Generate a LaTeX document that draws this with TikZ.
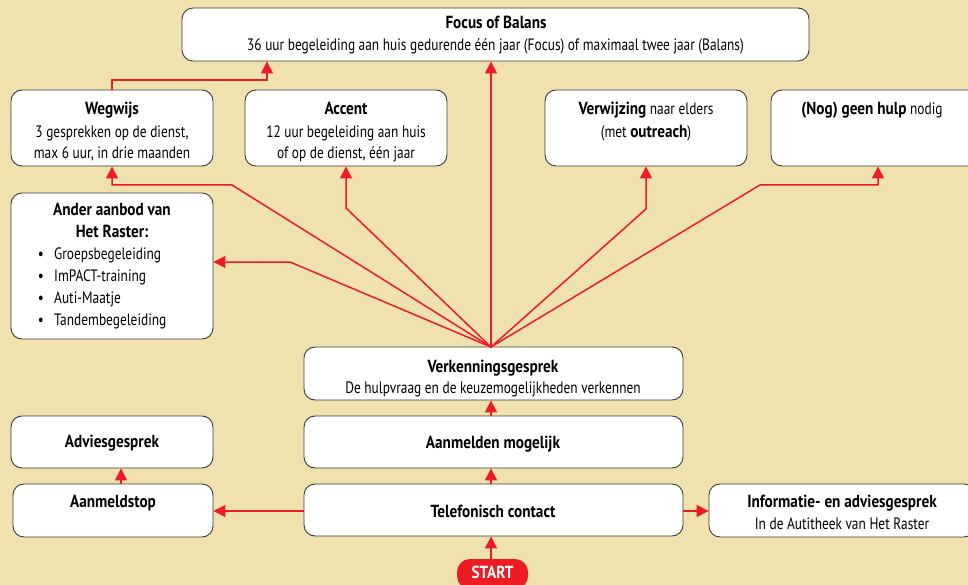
\documentclass[tikz,border=0pt]{standalone}
\usepackage{fontspec}
\setmainfont{PT Sans}[FakeStretch=0.81,BoldFeatures={FakeStretch=0.87}]
\usetikzlibrary{arrows.meta,calc}
\definecolor{bg}{HTML}{F0E2AF}
\definecolor{rd}{HTML}{ED1C24}
\definecolor{bd}{HTML}{3A3A3A}
\newcommand{\bfz}{\fontsize{17.5}{20}\selectfont\bfseries}
\tikzset{
  box/.style={draw=bd,fill=white,line width=0.9pt,rounded corners=11pt,inner sep=0pt},
  txt/.style={anchor=base,inner sep=0pt,font=\fontsize{16.5}{20}\selectfont},
  ttl/.style={txt,font=\bfz},
  lft/.style={anchor=base west,inner sep=0pt,font=\fontsize{16.5}{20}\selectfont},
  arr/.style={draw=rd,line width=1.5pt,-{Triangle[length=12pt,width=12pt]}},
}
\begin{document}
\begin{tikzpicture}[x=1pt,y=-1pt]
\clip (0,0) rectangle (968,585);
\fill[bg] (0,0) rectangle (968,585);
\useasboundingbox (0,0) rectangle (968,585);

% boxes
\node[box,minimum width=627,minimum height=53] (focus) at (495.5,34.5) {};
\node[box,minimum width=202,minimum height=76] (wegwijs) at (112,128) {};
\node[box,minimum width=202,minimum height=76] (accent) at (346,128) {};
\node[box,minimum width=202,minimum height=76] (verwijz) at (646,128) {};
\node[box,minimum width=214,minimum height=76] (nog) at (878,128) {};
\node[box,minimum width=202,minimum height=146] (ander) at (112,266) {};
\node[box,minimum width=379,minimum height=53] (verk) at (493.5,373.5) {};
\node[box,minimum width=379,minimum height=52] (aanm) at (493.5,442) {};
\node[box,minimum width=379,minimum height=52] (tel) at (493.5,510) {};
\node[box,minimum width=202,minimum height=52] (advies) at (112,442) {};
\node[box,minimum width=200,minimum height=53] (stop) at (113,510.5) {};
\node[box,minimum width=266,minimum height=53] (info) at (842,510.5) {};
\node[fill=rd,rounded corners=13pt,minimum width=71,minimum height=30,inner sep=0pt] (start) at (492.5,574) {};

% texts
\node[ttl] (tfocus1) at (496,29) {Focus of Balans};
\node[txt] (tfocus2) at (495.5,51) {36 uur begeleiding aan huis gedurende één jaar (Focus) of maximaal twee jaar (Balans)};
\node[ttl] (tweg1) at (112,115) {Wegwijs};
\node[txt] (tweg2) at (112,138) {3 gesprekken op de dienst,};
\node[txt] (tweg3) at (112,159) {max 6 uur, in drie maanden};
\node[ttl] (tacc1) at (346,115) {Accent};
\node[txt] (tacc2) at (346,138) {12 uur begeleiding aan huis};
\node[txt] (tacc3) at (346,159) {of op de dienst, één jaar};
\node[txt] (tver1) at (646,115) {{\bfz Verwijzing} naar elders};
\node[txt] (tver2) at (646,138) {(met {\bfz outreach})};
\node[txt] (tnog) at (872,115) {{\bfz (Nog) geen hulp} nodig};
\node[ttl] (tand1) at (112,215) {Ander aanbod van};
\node[ttl] (tand2) at (112,237) {Het Raster:};
\foreach \t/\yy [count=\i] in {Groepsbegeleiding/259,ImPACT-training/281,Auti-Maatje/303,Tandembegeleiding/325}{
  \node[txt] (bul\i) at (41,\yy) {•};
  \node[lft] (item\i) at (54,\yy) {\t};
}
\node[ttl] (tverk1) at (493,372) {Verkenningsgesprek};
\node[txt] (tverk2) at (493,393) {De hulpvraag en de keuzemogelijkheden verkennen};
\node[ttl] (taanm) at (493,448) {Aanmelden mogelijk};
\node[ttl] (ttel) at (493,517) {Telefonisch contact};
\node[ttl] (tadv) at (112,447) {Adviesgesprek};
\node[ttl] (tstop) at (113,507) {Aanmeldstop};
\node[ttl] (tinfo1) at (842,507) {Informatie- en adviesgesprek};
\node[txt] (tinfo2) at (842,529) {In de Autitheek van Het Raster};
\node[ttl,text=white] (tstart) at (492.5,578) {START};

% connectors
\coordinate (hub) at (491,347);
\coordinate (hy) at (0,511);
\draw[arr] (start.north -| hub) -- (tel.south -| hub);
\draw[arr] (tel.north -| hub) -- (aanm.south -| hub);
\draw[arr] (aanm.north -| hub) -- (verk.south -| hub);
\draw[arr] (tel.west |- hy) -- (stop.east |- hy);
\draw[arr] (tel.east |- hy) -- (info.west |- hy);
\draw[arr] ([xshift=8pt]stop.north) -- ([xshift=8pt]stop.north |- advies.south);

\coordinate (kW) at (232,185);
\coordinate (kA) at (346,208);
\coordinate (kR) at (290,262);
\coordinate (kV) at (646,209);
\coordinate (kN) at (760,185);
\coordinate (fw) at (267,80);
\draw[arr] (hub) -- (kW) -| (wegwijs.south);
\draw[arr] (hub) -- (kA) -| (accent.south);
\draw[arr] (hub) -- (focus.south -| hub);
\draw[arr] (hub) -- (kR) -- (ander.east |- kR);
\draw[arr] (hub) -- (kV) -| (verwijz.south);
\draw[arr] (hub) -- (kN) -| (nog.south);
\draw[arr] (wegwijs.north) |- (fw) -- (fw |- focus.south);
\end{tikzpicture}
\end{document}
